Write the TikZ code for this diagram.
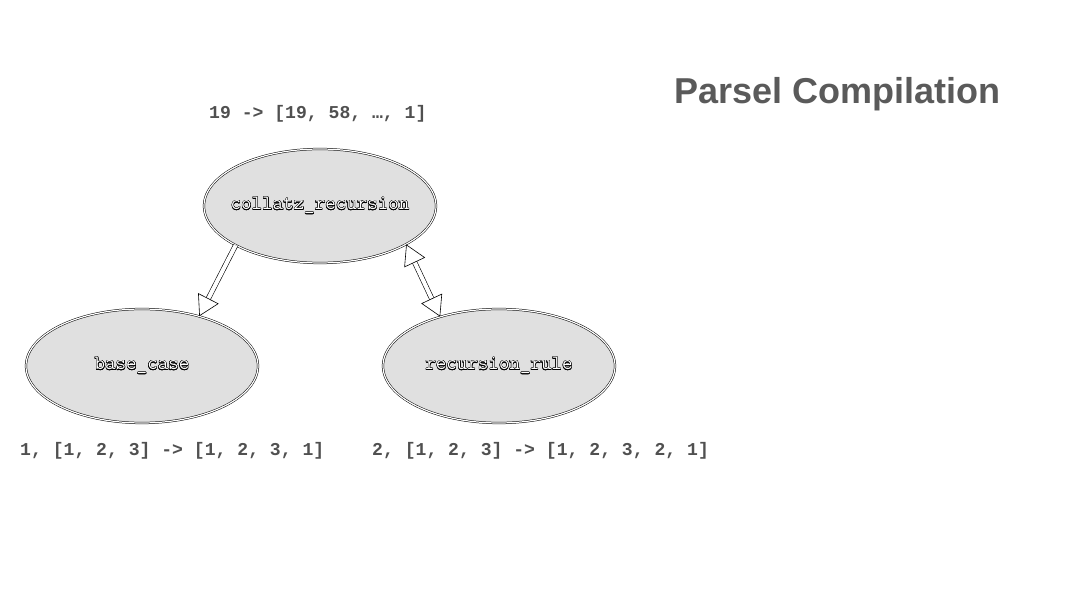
\documentclass[tikz,border=0pt]{standalone}
\usepackage{fontspec}
\setmonofont{Liberation Mono}
\newfontfamily\titlefont{Liberation Sans}
\newfontfamily\rulefont{Latin Modern Mono}
\usepackage{contour}
\contourlength{0.4pt}
\usetikzlibrary{shapes.geometric, positioning, arrows.meta}
\definecolor{nodegray}{RGB}{224,224,224}
\definecolor{iogray}{RGB}{80,80,80}
\definecolor{titlegray}{RGB}{90,90,90}
\newcommand{\hollow}[1]{\makebox[0pt]{\contour{black}{\textcolor{white}{#1}}}}

\begin{document}
\begin{tikzpicture}[x=1pt, y=1pt, >={Triangle[open, length=20pt, width=23pt]}, node distance=160pt and 178pt, on grid]
    \useasboundingbox (0,0) rectangle (1080,608);
    \tikzset{
        rule/.style={ellipse, draw, fill=nodegray, double, double distance=1.2pt, line width=0.5pt,
            minimum width=232pt, minimum height=114pt, font=\rulefont\fontsize{20.4}{22}\selectfont},
        io/.style={anchor=base west, inner sep=0pt, text=iogray, font=\fontsize{18.1}{20}\ttfamily\bfseries},
        call/.style={double, double distance=4pt, line width=0.6pt}
    }
    \node[rule] (collatz) at (320,402) {\hollow{collatz\_recursion}};
    \node[rule] (basecase) [below left=of collatz] {\hollow{base\_case}};
    \node[rule] (recrule) [right=357pt of basecase] {\hollow{recursion\_rule}};

    \node[io] (collatzio) at ([shift={(-111,87)}]collatz.center) {19 -> [19, 58, …, 1]};
    \node[io] (baseio) at ([shift={(-122,-90)}]basecase.center) {1, [1, 2, 3] -> [1, 2, 3, 1]};
    \node[io] (recio) at ([shift={(-127,-90)}]recrule.center) {2, [1, 2, 3] -> [1, 2, 3, 2, 1]};

    \draw[call, ->] (collatz.205) -- (basecase.41);
    \draw[call, <->] (collatz.336) -- (recrule.140);

    \node[anchor=base west, inner sep=0pt, text=titlegray, font=\titlefont\fontsize{36}{40}\selectfont\bfseries] (title) at (674,504) {Parsel Compilation};
\end{tikzpicture}
\end{document}
